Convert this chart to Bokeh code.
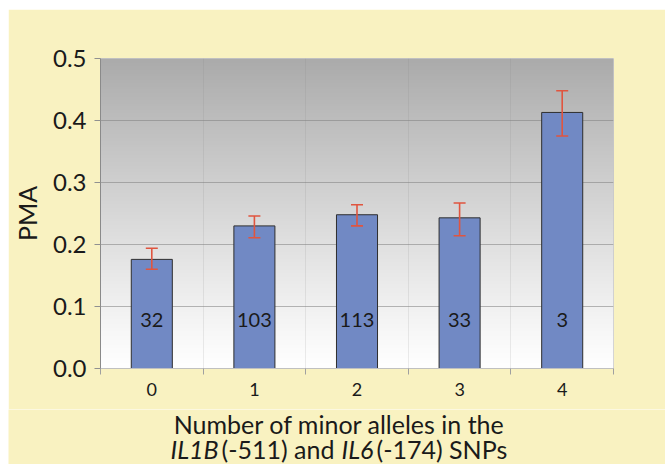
import numpy as np
from bokeh.plotting import figure
from bokeh.layouts import column
from bokeh.models import ColumnDataSource, FixedTicker, Whisker, TeeHead
from bokeh.core.properties import value
from bokeh.embed import file_html
from bokeh.resources import INLINE

# ---- data ----
categories = ["0", "1", "2", "3", "4"]
pma = [0.176, 0.230, 0.248, 0.243, 0.413]
err_upper = [0.194, 0.246, 0.264, 0.267, 0.448]
err_lower = [0.160, 0.211, 0.230, 0.214, 0.375]
counts = ["32", "103", "113", "33", "3"]
y_ticks = [0.0, 0.1, 0.2, 0.3, 0.4, 0.5]
y_tick_labels = ["0.0", "0.1", "0.2", "0.3", "0.4", "0.5"]
x_title_line1 = "Number of minor alleles in the"
x_title_line2 = [("IL1B", "italic"), ("(-511) and ", "normal"), ("IL6", "italic"), ("(-174) SNPs", "normal")]

FONT = "Lato"
CREAM = "#f9f2c1"
INK = "#1a1a1a"
W = 657

xs = list(range(len(categories)))
src = ColumnDataSource(dict(x=xs, top=pma, upper=err_upper, lower=err_lower, n=counts))

p = figure(width=W, height=400, output_backend="svg", toolbar_location=None,
           x_range=(-0.5, len(categories) - 0.5), y_range=(0, 0.5),
           min_border_left=89, min_border_right=52, min_border_top=49, min_border_bottom=41)
p.frame_align = False
p.background_fill_color = "white"
p.border_fill_color = CREAM
p.outline_line_color = "#c8c8c8"

# gradient background of the plot area (decoration)
nrows = 256
t = np.linspace(0, 1, nrows)
g = (255 - 84 * t ** 1.1).astype(np.uint32)
col = (255 << 24) | (g << 16) | (g << 8) | g
img = np.repeat(col[:, None], 2, axis=1).astype(np.uint32)
p.image_rgba(image=[img], x=-0.5, y=0, dw=len(categories), dh=0.5, level="image")

# bars
p.vbar(x="x", top="top", width=0.4, source=src, fill_color="#7189c4",
       line_color="#2e2e2e", line_width=1)

# error bars
ERR = "#e0553f"
wh = Whisker(base="x", upper="upper", lower="lower", source=src,
             line_color=ERR, line_width=1.6, level="annotation",
             upper_head=TeeHead(size=12, line_color=ERR, line_width=1.6),
             lower_head=TeeHead(size=12, line_color=ERR, line_width=1.6))
p.add_layout(wh)

# counts inside bars
p.text(x="x", y=0.078, text="n", source=src, text_align="center", text_baseline="middle",
       text_font=value(FONT), text_font_size="20px", text_color=INK)

# grids
minor = [i - 0.5 for i in range(len(categories) + 1)]
p.ygrid.ticker = FixedTicker(ticks=y_ticks)
p.ygrid.grid_line_color = "#808080"
p.ygrid.grid_line_alpha = 0.55
p.xgrid.ticker = FixedTicker(ticks=xs, minor_ticks=minor)
p.xgrid.grid_line_color = None
p.xgrid.minor_grid_line_color = "#808080"
p.xgrid.minor_grid_line_alpha = 0.15

# y axis
p.yaxis.ticker = FixedTicker(ticks=y_ticks)
p.yaxis.major_label_overrides = {v: s for v, s in zip(y_ticks, y_tick_labels)}
p.yaxis.axis_label = "PMA"
p.yaxis.axis_label_text_font = FONT
p.yaxis.axis_label_text_font_style = "normal"
p.yaxis.axis_label_text_font_size = "25px"
p.yaxis.axis_label_text_color = INK
p.yaxis.axis_label_standoff = 8
p.yaxis.major_label_text_font = FONT
p.yaxis.major_label_text_font_size = "24px"
p.yaxis.major_label_text_color = INK
p.yaxis.major_label_standoff = 8
p.yaxis.major_tick_out = 6
p.yaxis.major_tick_in = 0
p.yaxis.minor_tick_line_color = None
p.yaxis.major_tick_line_color = "#909090"
p.yaxis.axis_line_color = "#8a8a8a"

# x axis
p.xaxis.ticker = FixedTicker(ticks=xs, minor_ticks=minor)
p.xaxis.major_label_overrides = {i: c for i, c in zip(xs, categories)}
p.xaxis.major_tick_line_color = None
p.xaxis.major_tick_out = 0
p.xaxis.major_tick_in = 0
p.xaxis.minor_tick_out = 6
p.xaxis.minor_tick_in = 0
p.xaxis.minor_tick_line_color = "#a0a0a0"
p.xaxis.axis_line_color = "#c0c0c0"
p.xaxis.major_label_standoff = 8
p.xaxis.major_label_text_font = FONT
p.xaxis.major_label_text_font_size = "18px"
p.xaxis.major_label_text_color = INK

# x axis title in a strip below (two lines, gene names in italics)
H2 = 55
p2 = figure(width=W, height=H2, output_backend="svg", toolbar_location=None,
            x_range=(0, W), y_range=(0, H2), min_border=0,
            min_border_left=0, min_border_right=0, min_border_top=0, min_border_bottom=0,
            x_axis_type=None, y_axis_type=None)
p2.title = None
p2.frame_align = False
p2.background_fill_color = CREAM
p2.border_fill_color = CREAM
p2.outline_line_color = None
p2.grid.visible = False

TS = "25px"
p2.text(x=[331], y=[41], text=[x_title_line1], text_align="center", text_baseline="alphabetic",
        text_font=value(FONT), text_font_size=TS, text_color=INK)
seg_x = [162, 213, 333, 368]
for sx, (txt, style) in zip(seg_x, x_title_line2):
    p2.text(x=[sx], y=[16], text=[txt], text_align="left", text_baseline="alphabetic",
            text_font=value(FONT), text_font_size=TS, text_font_style=style, text_color=INK)

layout = column(p, p2, spacing=0, margin=(9, 0, 0, 8))
open("out.html", "w").write(file_html(layout, INLINE))
